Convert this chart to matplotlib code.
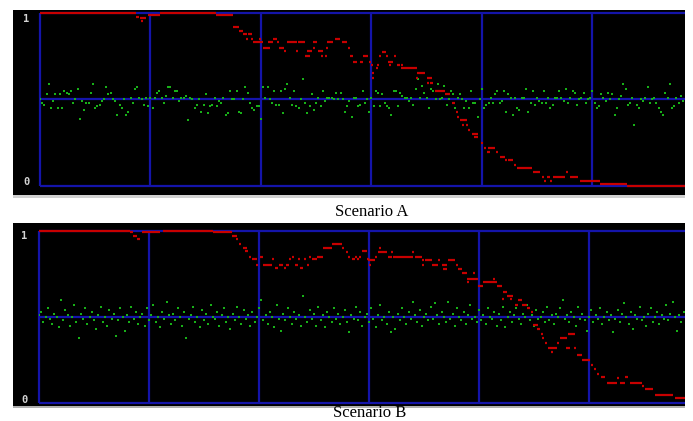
import numpy as np
import matplotlib
matplotlib.use("Agg")
import matplotlib.pyplot as plt
from matplotlib.patches import Rectangle

# ---------------- data (values in percent of full scale) ----------------
titles = ["Scenario A", "Scenario B"]
grid_a = [50, 100, 150, 200, 250]
grid_b = [50, 100, 150, 200, 250]
ref_level = 50

green_a = [50, 48, 47, 53, 59, 45, 49, 53, 45, 53, 45, 55, 54, 53, 55, 48, 50, 56, 39, 49,
           44, 48, 48, 54, 59, 45, 46, 47, 49, 50, 57, 53, 54, 50, 49, 41, 47, 45, 50, 41,
           43, 51, 48, 56, 57, 51, 50, 47, 51, 46, 51, 45, 51, 54, 55, 51, 48, 52, 57, 57,
           51, 55, 55, 49, 51, 51, 52, 38, 51, 50, 45, 47, 50, 43, 47, 53, 42, 46, 47, 51,
           46, 49, 48, 51, 41, 42, 55, 50, 50, 55, 43, 42, 50, 57, 54, 48, 45, 44, 46, 46,
           39, 57, 51, 57, 50, 48, 55, 47, 47, 55, 42, 56, 59, 51, 47, 55, 46, 45, 50, 62,
           48, 42, 46, 53, 44, 48, 51, 46, 55, 49, 51, 51, 51, 50, 54, 50, 54, 50, 43, 46,
           49, 40, 51, 51, 46, 47, 55, 48, 50, 43, 51, 46, 55, 54, 46, 53, 48, 46, 45, 41,
           55, 55, 46, 54, 52, 51, 51, 49, 51, 47, 56, 62, 51, 58, 54, 51, 45, 56, 55, 50,
           59, 50, 51, 58, 47, 50, 55, 53, 45, 51, 53, 50, 45, 49, 45, 55, 48, 48, 40, 50,
           56, 45, 47, 48, 51, 48, 53, 55, 48, 49, 55, 43, 53, 51, 41, 51, 45, 44, 51, 51,
           56, 43, 48, 55, 47, 51, 49, 48, 55, 48, 51, 45, 47, 51, 51, 55, 51, 49, 56, 48,
           51, 55, 54, 47, 50, 51, 54, 48, 50, 51, 55, 48, 45, 46, 53, 51, 49, 54, 50, 53,
           41, 45, 50, 52, 59, 56, 47, 48, 51, 35, 47, 45, 50, 49, 51, 57, 48, 50, 51, 48,
           45, 43, 41, 54, 51, 59, 45, 46, 51, 48, 52, 49]

green_b = [51, 53, 47, 50, 55, 49, 46, 52, 50, 44, 60, 48, 54, 51, 45, 50, 57, 47, 38, 52,
           49, 55, 46, 50, 53, 48, 43, 51, 56, 47, 50, 45, 54, 49, 52, 39, 48, 55, 50, 42,
           51, 47, 56, 49, 53, 46, 50, 52, 45, 55, 48, 51, 57, 47, 50, 44, 53, 49, 59, 51,
           46, 52, 48, 55, 50, 45, 53, 38, 49, 51, 56, 47, 50, 44, 54, 48, 52, 46, 57, 50,
           49, 53, 45, 51, 55, 47, 50, 43, 52, 48, 56, 50, 46, 54, 49, 51, 45, 53, 47, 50,
           55, 60, 48, 51, 46, 53, 50, 44, 57, 49, 42, 52, 48, 55, 50, 46, 53, 49, 51, 45,
           62, 50, 47, 54, 49, 52, 45, 56, 48, 51, 44, 53, 50, 47, 55, 49, 52, 46, 50, 54,
           47, 41, 51, 49, 56, 48, 53, 45, 50, 52, 47, 55, 49, 44, 51, 57, 48, 50, 46, 53,
           41, 50, 43, 52, 48, 55, 50, 46, 53, 49, 59, 51, 47, 54, 45, 50, 52, 48, 56, 49,
           58, 51, 46, 53, 50, 47, 59, 49, 52, 45, 55, 50, 48, 53, 46, 51, 57, 49, 50, 47,
           54, 48, 51, 46, 55, 50, 49, 53, 45, 52, 48, 56, 44, 50, 53, 47, 51, 55, 49, 46,
           52, 50, 57, 48, 51, 45, 54, 49, 50, 53, 47, 56, 48, 51, 46, 52, 50, 55, 60, 49,
           51, 47, 53, 50, 45, 56, 49, 52, 48, 42, 50, 54, 47, 51, 49, 55, 46, 50, 53, 48,
           51, 41, 49, 54, 47, 52, 58, 50, 46, 53, 43, 51, 49, 56, 48, 50, 45, 52, 55, 47,
           50, 53, 46, 51, 49, 57, 48, 52, 59, 50, 42, 51, 47, 53]

red_a_x0 = [0, 43.4, 45.2, 45.7, 48.9, 54.3, 79.6, 87.3, 90, 91.9, 94.1, 93.2, 95.5, 96.4, 99.1,
            100.9, 103.2, 105.4, 107.2, 108.1, 110.4, 111.8, 115.8, 116.7, 120.8, 119.9, 123.5,
            123.5, 125.8, 127.1, 129, 129.4, 129.9, 133.5, 136.7, 139.4, 140.3, 141.6, 144.8,
            146.2, 148.9, 149.8, 150.2, 150.2, 152, 152.5, 153.4, 154.8, 156.6, 157.5, 157.9,
            160.2, 161.5, 163.3, 163.3, 164.3, 170.6, 170.1, 175.1, 175.1, 176.5, 178.7, 183.3,
            186.4, 188.2, 188.7, 190, 190.9, 192.8, 193.7, 195.5, 196.4, 199.5, 200.9, 202.7,
            202.3, 206.3, 208.1, 210.4, 211.8, 214.5, 215.8, 223.1, 227.1, 228.1, 229.4, 230.8,
            232.1, 238, 239.8, 244.3, 253.4, 265.6]
red_a_x1 = [43.4, 44.8, 48, 46.6, 54.3, 79.6, 87.3, 90, 91.9, 93.7, 95.9, 94.1, 96.4, 100.9, 100,
            104.1, 105.4, 107.2, 108.1, 110.4, 111.3, 116.3, 116.7, 119.9, 123.1, 122.2, 125.3,
            124.4, 128.1, 128.1, 129.9, 130.3, 132.6, 135.7, 138.9, 140.2, 141.6, 143.4, 146.2,
            148.4, 149.8, 150.7, 151.1, 151.1, 152.9, 153.4, 154.3, 156.6, 157.5, 159.7, 158.8,
            161.1, 162.9, 164.3, 164.3, 170.6, 174.2, 171, 177.4, 175.9, 177.8, 183.3, 185.5,
            187.8, 189.1, 189.6, 193.2, 191.9, 193.7, 194.6, 198.2, 198.2, 200.5, 201.8, 205.9,
            203.6, 207.2, 210.4, 211.3, 214, 215.4, 222.6, 226.2, 228.1, 229, 230.8, 231.7,
            237.6, 238.9, 243.4, 253.4, 265.6, 292.0]
red_a_val = [100, 97.7, 97.1, 95.4, 98.8, 100, 98.8, 91.9, 89.6, 87.9, 87.9, 85, 85, 83.2, 85,
             79.8, 83.2, 85, 83.2, 79.8, 78, 83.2, 78, 83.2, 78, 75.1, 83.2,
             79.8, 78, 75.1, 75.1, 79.8, 83.2, 85, 83.2, 79.8, 75.1, 71.7, 71.7,
             75.1, 71.7, 69.9, 65.3, 62.4, 68.2, 69.9, 75.1, 77.5, 75.1, 71.7, 69.9,
             75.1, 69.9, 69.9, 68.2, 68.2, 65.3, 62.4, 62.4, 59.5, 59.5, 54.9, 53.2,
             48, 42.8, 39.9, 38.2, 35.3, 35.3, 32.4, 30.1, 28.3, 24.9, 22, 22,
             19.7, 19.7, 16.8, 15, 15, 12.1, 10.4, 8.1, 5.2, 2.9, 5.2, 2.9,
             5.2, 8.1, 5.2, 2.9, 1.2, 0]

red_b_x0 = [0, 41.4, 42.7, 44.5, 46.8, 56.4, 79.1, 87.7, 89.5, 90.9, 92.7, 93.6, 95.5, 96.8,
            98.6, 100.5, 101.8, 105.9, 107.3, 109.1, 111.4, 112.3, 113.6, 115, 116.4, 117.7,
            118.6, 120.5, 121.8, 122.7, 124.1, 126.4, 129.1, 133.2, 137.7, 139.5, 140.5, 142.3,
            143.6, 144.5, 145.5, 146.8, 149.1,
            149.5, 150, 152.7, 154.1, 154.5, 155.9, 158.6, 160, 160.9, 169.5, 170.9, 174.1,
            175.5, 174.1, 178.6, 181.4, 183.2, 183.6, 185.9, 189.5, 190.5, 192.3, 194.5, 194.5,
            197.3, 199.5, 201.8, 206.4, 208.2, 210.9, 210.5,
            212.7, 214.1, 216.4, 217.7, 219.5, 221.8, 223.6, 224.5, 226.4, 228.2, 228.6, 230,
            231.4, 232.7, 235.5, 236.8, 240.5, 239.5, 243.2, 244.5, 246.8, 250.9, 252.3, 253.6,
            255.5, 258.2, 262.7, 264.1, 266.4, 268.6, 274.1, 275.5, 280, 289.1]
red_b_x1 = [41.4, 42.7, 44.5, 45.9, 55, 79.1, 87.7, 90, 90.5, 91.8, 94.5, 95, 96.4, 99.1,
            99.5, 101.8, 105.9, 106.8, 108.6, 110.9, 112.3, 113.6, 114.5, 115.9, 117.7, 118.6,
            120, 121.4, 122.7, 123.6, 126.4, 129.1, 133.2, 137.7, 138.6, 140.5, 141.4, 143.6,
            144.5, 145.5, 146.4, 149.1, 150,
            152.7, 150.9, 153.6, 155.9, 155.5, 158.2, 160.5, 160.9, 170, 170.5, 174.1, 175,
            178.6, 175, 181.4, 182.3, 185.5, 185.5, 189.1, 190.5, 192.3, 194.5, 199.5, 195.5,
            198.2, 201.8, 208.2, 207.3, 210.5, 212.7, 211.4,
            215.5, 215, 217.7, 219.5, 221.8, 223.2, 224.5, 226.8, 227.7, 229.1, 229.5, 230.9,
            235.5, 233.6, 236.4, 240, 243.6, 241.4, 244.1, 246.8, 250.5, 251.8, 253.2, 254.5,
            257.3, 262.7, 263.6, 266.4, 267.7, 274.1, 275, 279.1, 288.2, 293.6]
red_b_val = [100, 99.4, 97.1, 95.3, 99.4, 100, 99.4, 97.1, 95.3, 92.4, 90.1, 88.4, 84.9, 83.7,
             80.2, 84.9, 80.2, 83.7, 78.5, 80.2, 78.5, 80.2, 83.7, 84.9, 80.2, 83.7,
             78.5, 83.7, 80.2, 84.9, 83.7, 84.9, 90.1, 92.4, 90.1, 87.8, 84.9, 83.7,
             84.9, 83.7, 84.9, 88.4, 83.7,
             83.1, 80.2, 84.9, 87.8, 90.1, 87.8, 84.9, 87.8, 84.9, 87.8, 84.9, 83.1,
             83.1, 80.2, 80.2, 83.1, 80.2, 77.9, 83.1, 80.2, 77.9, 75.6, 72.1, 70.3,
             75.6, 68.0, 70.3, 72.1, 68.0, 64.5, 60.5,
             62.2, 60.5, 57.0, 59.9, 57.0, 55.2, 52.9, 45.3, 43.0, 40.1, 37.8, 34.9,
             32.0, 29.7, 34.9, 37.8, 40.1, 32.0, 32.0, 27.9, 25.0, 22.1, 19.8, 16.9,
             15.1, 11.6, 14.5, 11.6, 15.1, 11.6, 9.9, 8.1, 4.7, 2.9]

# ---------------- styling / layout ----------------
W, H = 693, 421
BLUE = "#1414aa"
RED = "#c80000"
GREEN = "#18b018"
LABEL = "#d4d4d4"

fig = plt.figure(figsize=(W / 100, H / 100), dpi=100)
fig.patch.set_facecolor("white")


def fx(px):
    return px / W


def fy(py):
    return 1 - py / H


def rect(x0, y0, x1, y1, color):
    fig.add_artist(Rectangle((fx(x0), fy(y1)), (x1 - x0) / W, (y1 - y0) / H,
                             transform=fig.transFigure, facecolor=color,
                             edgecolor="none", zorder=0))


panels = [
    dict(bg=(13, 10, 685, 195), box=(40, 13, 685, 186), xmax=291.9,
         green=green_a, rx0=red_a_x0, rx1=red_a_x1, rv=red_a_val, grid=grid_a,
         lab1=(26, 19), lab0=(26, 182), title=(372, 212), shade=(13, 195, 685, 198, "#d0d0d0")),
    dict(bg=(13, 223, 685, 406), box=(39, 231, 685, 403), xmax=293.6,
         green=green_b, rx0=red_b_x0, rx1=red_b_x1, rv=red_b_val, grid=grid_b,
         lab1=(24, 236), lab0=(24, 400), title=(370, 413), shade=(13, 406, 685, 408, "#b0b0b0")),
]

for i, p in enumerate(panels):
    rect(*p["bg"], "black")
    sx0, sy0, sx1, sy1, sc = p["shade"]
    rect(sx0, sy0, sx1, sy1, sc)
    bx0, by0, bx1, by1 = p["box"]
    ax = fig.add_axes([fx(bx0), fy(by1), (bx1 - bx0) / W, (by1 - by0) / H])
    ax.set_facecolor("none")
    ax.set_xlim(0, p["xmax"])
    ax.set_ylim(0, 100)
    for side in ["left", "top", "bottom"]:
        ax.spines[side].set_color(BLUE)
        ax.spines[side].set_linewidth(1.6)
        ax.spines[side].set_capstyle("butt")
    ax.spines["right"].set_visible(False)
    ax.set_xticks(p["grid"])
    ax.set_yticks([])
    ax.tick_params(length=0, labelbottom=False)
    ax.grid(axis="x", color=BLUE, linewidth=1.6, zorder=1)
    ax.set_axisbelow(True)
    ax.axhline(ref_level, color=BLUE, linewidth=1.6, zorder=2)
    g = np.array(p["green"])
    ax.plot(np.arange(len(g)), g, linestyle="none", marker="s", markersize=2.0,
            markeredgewidth=0, color=GREEN, zorder=3)
    ax.hlines(p["rv"], p["rx0"], p["rx1"], colors=RED, linewidth=1.6, zorder=5,
              clip_on=False)
    fig.text(fx(p["lab1"][0]), fy(p["lab1"][1]), "1", color=LABEL, fontsize=7.5,
             fontweight="bold", family="DejaVu Sans Mono", ha="center", va="center")
    fig.text(fx(p["lab0"][0]), fy(p["lab0"][1]), "0", color=LABEL, fontsize=7.5,
             fontweight="bold", family="DejaVu Sans Mono", ha="center", va="center")
    fig.text(fx(p["title"][0]), fy(p["title"][1]), titles[i], color="black",
             fontsize=12, family="Liberation Serif", ha="center", va="center")

fig.savefig("out.png", dpi=100, facecolor="white")
